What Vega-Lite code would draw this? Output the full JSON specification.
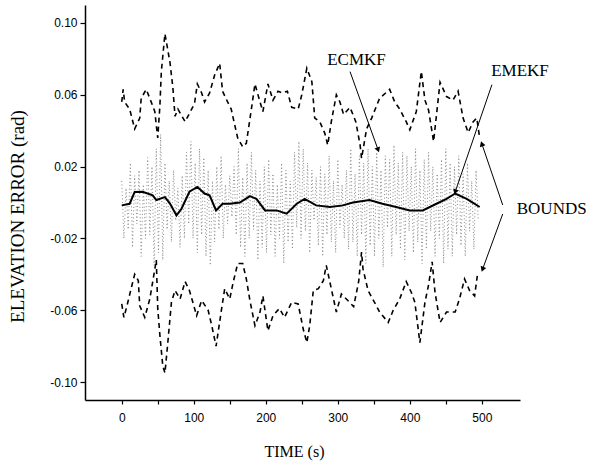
{
  "$schema": "https://vega.github.io/schema/vega-lite/v6.json",
  "width": 435,
  "height": 395,
  "autosize": {"type": "none"},
  "padding": {"left": 85, "top": 5, "right": 74, "bottom": 64},
  "background": "white",
  "config": {
    "view": {"stroke": null},
    "axis": {"grid": false, "domainColor": "black", "domainWidth": 1.5, "tickColor": "black", "tickWidth": 1.2, "labelColor": "black", "titleColor": "black", "labelFont": "Liberation Sans", "labelFontSize": 12, "titleFont": "Liberation Serif", "titleFontWeight": "normal"}
  },
  "datasets": {
    "bounds": [
      {"t": 0, "v": 0.056, "s": "upper"}, {"t": 2, "v": 0.063, "s": "upper"}, {"t": 4, "v": 0.056, "s": "upper"}, {"t": 11, "v": 0.052, "s": "upper"}, {"t": 18, "v": 0.041, "s": "upper"}, {"t": 25, "v": 0.047, "s": "upper"}, {"t": 27, "v": 0.058, "s": "upper"}, {"t": 34, "v": 0.063, "s": "upper"}, {"t": 39, "v": 0.058, "s": "upper"}, {"t": 46, "v": 0.0506, "s": "upper"}, {"t": 48, "v": 0.043, "s": "upper"}, {"t": 50, "v": 0.036, "s": "upper"}, {"t": 53, "v": 0.054, "s": "upper"}, {"t": 55, "v": 0.073, "s": "upper"}, {"t": 60, "v": 0.094, "s": "upper"}, {"t": 67, "v": 0.078, "s": "upper"}, {"t": 71, "v": 0.064, "s": "upper"}, {"t": 74, "v": 0.048, "s": "upper"}, {"t": 78, "v": 0.052, "s": "upper"}, {"t": 88, "v": 0.045, "s": "upper"}, {"t": 94, "v": 0.0496, "s": "upper"}, {"t": 101, "v": 0.055, "s": "upper"}, {"t": 105, "v": 0.066, "s": "upper"}, {"t": 111, "v": 0.061, "s": "upper"}, {"t": 115, "v": 0.056, "s": "upper"}, {"t": 122, "v": 0.061, "s": "upper"}, {"t": 129, "v": 0.071, "s": "upper"}, {"t": 136, "v": 0.0775, "s": "upper"}, {"t": 140, "v": 0.062, "s": "upper"}, {"t": 147, "v": 0.056, "s": "upper"}, {"t": 152, "v": 0.052, "s": "upper"}, {"t": 157, "v": 0.043, "s": "upper"}, {"t": 161, "v": 0.036, "s": "upper"}, {"t": 168, "v": 0.031, "s": "upper"}, {"t": 173, "v": 0.033, "s": "upper"}, {"t": 180, "v": 0.052, "s": "upper"}, {"t": 185, "v": 0.066, "s": "upper"}, {"t": 192, "v": 0.056, "s": "upper"}, {"t": 196, "v": 0.0506, "s": "upper"}, {"t": 203, "v": 0.066, "s": "upper"}, {"t": 210, "v": 0.057, "s": "upper"}, {"t": 217, "v": 0.062, "s": "upper"}, {"t": 223, "v": 0.061, "s": "upper"}, {"t": 230, "v": 0.062, "s": "upper"}, {"t": 236, "v": 0.053, "s": "upper"}, {"t": 245, "v": 0.052, "s": "upper"}, {"t": 250, "v": 0.06, "s": "upper"}, {"t": 257, "v": 0.0748, "s": "upper"}, {"t": 264, "v": 0.0673, "s": "upper"}, {"t": 268, "v": 0.047, "s": "upper"}, {"t": 275, "v": 0.045, "s": "upper"}, {"t": 282, "v": 0.0385, "s": "upper"}, {"t": 286, "v": 0.032, "s": "upper"}, {"t": 291, "v": 0.045, "s": "upper"}, {"t": 298, "v": 0.06, "s": "upper"}, {"t": 303, "v": 0.056, "s": "upper"}, {"t": 308, "v": 0.049, "s": "upper"}, {"t": 317, "v": 0.053, "s": "upper"}, {"t": 325, "v": 0.045, "s": "upper"}, {"t": 331, "v": 0.032, "s": "upper"}, {"t": 333, "v": 0.0245, "s": "upper"}, {"t": 340, "v": 0.041, "s": "upper"}, {"t": 347, "v": 0.047, "s": "upper"}, {"t": 358, "v": 0.058, "s": "upper"}, {"t": 372, "v": 0.063, "s": "upper"}, {"t": 379, "v": 0.056, "s": "upper"}, {"t": 386, "v": 0.052, "s": "upper"}, {"t": 395, "v": 0.045, "s": "upper"}, {"t": 400, "v": 0.0405, "s": "upper"}, {"t": 409, "v": 0.0506, "s": "upper"}, {"t": 416, "v": 0.073, "s": "upper"}, {"t": 421, "v": 0.057, "s": "upper"}, {"t": 426, "v": 0.0515, "s": "upper"}, {"t": 433, "v": 0.034, "s": "upper"}, {"t": 442, "v": 0.067, "s": "upper"}, {"t": 451, "v": 0.059, "s": "upper"}, {"t": 460, "v": 0.057, "s": "upper"}, {"t": 467, "v": 0.062, "s": "upper"}, {"t": 474, "v": 0.047, "s": "upper"}, {"t": 481, "v": 0.039, "s": "upper"}, {"t": 488, "v": 0.045, "s": "upper"}, {"t": 493, "v": 0.047, "s": "upper"}, {"t": 497, "v": 0.036, "s": "upper"},
      {"t": 0, "v": -0.0565, "s": "lower"}, {"t": 3, "v": -0.064, "s": "lower"}, {"t": 7, "v": -0.058, "s": "lower"}, {"t": 13, "v": -0.048, "s": "lower"}, {"t": 18, "v": -0.04, "s": "lower"}, {"t": 23, "v": -0.0435, "s": "lower"}, {"t": 25, "v": -0.0575, "s": "lower"}, {"t": 32, "v": -0.064, "s": "lower"}, {"t": 39, "v": -0.0537, "s": "lower"}, {"t": 46, "v": -0.037, "s": "lower"}, {"t": 48, "v": -0.032, "s": "lower"}, {"t": 50, "v": -0.059, "s": "lower"}, {"t": 53, "v": -0.074, "s": "lower"}, {"t": 57, "v": -0.091, "s": "lower"}, {"t": 60, "v": -0.095, "s": "lower"}, {"t": 64, "v": -0.078, "s": "lower"}, {"t": 69, "v": -0.0556, "s": "lower"}, {"t": 74, "v": -0.049, "s": "lower"}, {"t": 81, "v": -0.0537, "s": "lower"}, {"t": 88, "v": -0.044, "s": "lower"}, {"t": 94, "v": -0.049, "s": "lower"}, {"t": 104, "v": -0.063, "s": "lower"}, {"t": 111, "v": -0.0546, "s": "lower"}, {"t": 120, "v": -0.06, "s": "lower"}, {"t": 125, "v": -0.0686, "s": "lower"}, {"t": 131, "v": -0.08, "s": "lower"}, {"t": 138, "v": -0.061, "s": "lower"}, {"t": 143, "v": -0.048, "s": "lower"}, {"t": 150, "v": -0.0537, "s": "lower"}, {"t": 155, "v": -0.044, "s": "lower"}, {"t": 161, "v": -0.034, "s": "lower"}, {"t": 168, "v": -0.034, "s": "lower"}, {"t": 173, "v": -0.0426, "s": "lower"}, {"t": 178, "v": -0.0546, "s": "lower"}, {"t": 185, "v": -0.0686, "s": "lower"}, {"t": 192, "v": -0.061, "s": "lower"}, {"t": 196, "v": -0.052, "s": "lower"}, {"t": 203, "v": -0.0714, "s": "lower"}, {"t": 210, "v": -0.063, "s": "lower"}, {"t": 219, "v": -0.059, "s": "lower"}, {"t": 226, "v": -0.064, "s": "lower"}, {"t": 236, "v": -0.0556, "s": "lower"}, {"t": 245, "v": -0.0565, "s": "lower"}, {"t": 252, "v": -0.0705, "s": "lower"}, {"t": 257, "v": -0.078, "s": "lower"}, {"t": 261, "v": -0.0686, "s": "lower"}, {"t": 266, "v": -0.049, "s": "lower"}, {"t": 273, "v": -0.048, "s": "lower"}, {"t": 280, "v": -0.0435, "s": "lower"}, {"t": 284, "v": -0.035, "s": "lower"}, {"t": 291, "v": -0.048, "s": "lower"}, {"t": 298, "v": -0.061, "s": "lower"}, {"t": 305, "v": -0.051, "s": "lower"}, {"t": 314, "v": -0.0546, "s": "lower"}, {"t": 322, "v": -0.058, "s": "lower"}, {"t": 329, "v": -0.044, "s": "lower"}, {"t": 333, "v": -0.0276, "s": "lower"}, {"t": 335, "v": -0.037, "s": "lower"}, {"t": 342, "v": -0.049, "s": "lower"}, {"t": 351, "v": -0.0556, "s": "lower"}, {"t": 358, "v": -0.061, "s": "lower"}, {"t": 370, "v": -0.0668, "s": "lower"}, {"t": 377, "v": -0.06, "s": "lower"}, {"t": 386, "v": -0.0537, "s": "lower"}, {"t": 395, "v": -0.044, "s": "lower"}, {"t": 402, "v": -0.05, "s": "lower"}, {"t": 407, "v": -0.0556, "s": "lower"}, {"t": 414, "v": -0.078, "s": "lower"}, {"t": 421, "v": -0.0556, "s": "lower"}, {"t": 426, "v": -0.046, "s": "lower"}, {"t": 431, "v": -0.033, "s": "lower"}, {"t": 435, "v": -0.05, "s": "lower"}, {"t": 442, "v": -0.0668, "s": "lower"}, {"t": 451, "v": -0.061, "s": "lower"}, {"t": 463, "v": -0.061, "s": "lower"}, {"t": 469, "v": -0.0537, "s": "lower"}, {"t": 476, "v": -0.0426, "s": "lower"}, {"t": 483, "v": -0.049, "s": "lower"}, {"t": 490, "v": -0.052, "s": "lower"}, {"t": 494, "v": -0.04, "s": "lower"}
    ],
    "emekf": [
      {"t": 0, "v": -0.0016}, {"t": 11, "v": -0.0007}, {"t": 18, "v": 0.0059}, {"t": 29, "v": 0.006}, {"t": 43, "v": 0.004}, {"t": 48, "v": 0.0014}, {"t": 60, "v": 0.003}, {"t": 67, "v": -0.0006}, {"t": 76, "v": -0.0072}, {"t": 83, "v": -0.0035}, {"t": 94, "v": 0.006}, {"t": 105, "v": 0.0087}, {"t": 115, "v": 0.005}, {"t": 122, "v": 0.004}, {"t": 131, "v": -0.0044}, {"t": 140, "v": -0.0007}, {"t": 150, "v": -0.0007}, {"t": 164, "v": 0.0}, {"t": 178, "v": 0.0036}, {"t": 187, "v": 0.002}, {"t": 199, "v": -0.0044}, {"t": 215, "v": -0.0044}, {"t": 229, "v": -0.0062}, {"t": 243, "v": -0.0007}, {"t": 254, "v": 0.002}, {"t": 270, "v": -0.0016}, {"t": 289, "v": -0.0025}, {"t": 307, "v": -0.0016}, {"t": 321, "v": 0.0}, {"t": 344, "v": 0.0014}, {"t": 362, "v": -0.0007}, {"t": 381, "v": -0.0025}, {"t": 400, "v": -0.0044}, {"t": 418, "v": -0.0044}, {"t": 437, "v": -0.0007}, {"t": 451, "v": 0.002}, {"t": 463, "v": 0.005}, {"t": 479, "v": 0.002}, {"t": 497, "v": -0.0025}
    ],
    "ecmkf": [
      {"t": 0, "v": 0.012}, {"t": 3, "v": -0.02}, {"t": 6, "v": 0.008}, {"t": 9, "v": -0.015}, {"t": 12, "v": 0.022}, {"t": 15, "v": -0.025}, {"t": 18, "v": 0.015}, {"t": 21, "v": -0.012}, {"t": 24, "v": 0.018}, {"t": 27, "v": -0.03}, {"t": 30, "v": 0.01}, {"t": 33, "v": -0.02}, {"t": 36, "v": 0.025}, {"t": 39, "v": -0.018}, {"t": 42, "v": 0.02}, {"t": 45, "v": -0.035}, {"t": 48, "v": 0.03}, {"t": 51, "v": -0.028}, {"t": 54, "v": 0.038}, {"t": 57, "v": -0.032}, {"t": 60, "v": 0.022}, {"t": 63, "v": -0.015}, {"t": 66, "v": 0.012}, {"t": 69, "v": -0.022}, {"t": 72, "v": 0.018}, {"t": 75, "v": -0.01}, {"t": 78, "v": 0.008}, {"t": 81, "v": -0.025}, {"t": 84, "v": 0.015}, {"t": 87, "v": -0.02}, {"t": 90, "v": 0.028}, {"t": 93, "v": -0.012}, {"t": 96, "v": 0.034}, {"t": 99, "v": -0.02}, {"t": 102, "v": 0.022}, {"t": 105, "v": -0.028}, {"t": 108, "v": 0.03}, {"t": 111, "v": -0.018}, {"t": 114, "v": 0.025}, {"t": 117, "v": -0.03}, {"t": 120, "v": 0.018}, {"t": 123, "v": -0.035}, {"t": 126, "v": 0.012}, {"t": 129, "v": -0.022}, {"t": 132, "v": 0.02}, {"t": 135, "v": -0.015}, {"t": 138, "v": 0.026}, {"t": 141, "v": -0.02}, {"t": 144, "v": 0.01}, {"t": 147, "v": -0.012}, {"t": 150, "v": 0.015}, {"t": 153, "v": -0.008}, {"t": 156, "v": 0.02}, {"t": 159, "v": -0.018}, {"t": 162, "v": 0.03}, {"t": 165, "v": -0.025}, {"t": 168, "v": 0.014}, {"t": 171, "v": -0.03}, {"t": 174, "v": 0.022}, {"t": 177, "v": -0.02}, {"t": 180, "v": 0.028}, {"t": 183, "v": -0.015}, {"t": 186, "v": 0.018}, {"t": 189, "v": -0.032}, {"t": 192, "v": 0.012}, {"t": 195, "v": -0.025}, {"t": 198, "v": 0.02}, {"t": 201, "v": -0.028}, {"t": 204, "v": 0.024}, {"t": 207, "v": -0.018}, {"t": 210, "v": 0.016}, {"t": 213, "v": -0.03}, {"t": 216, "v": 0.01}, {"t": 219, "v": -0.02}, {"t": 222, "v": 0.022}, {"t": 225, "v": -0.034}, {"t": 228, "v": 0.018}, {"t": 231, "v": -0.022}, {"t": 234, "v": 0.012}, {"t": 237, "v": -0.026}, {"t": 240, "v": 0.028}, {"t": 243, "v": -0.014}, {"t": 246, "v": 0.034}, {"t": 249, "v": -0.02}, {"t": 252, "v": 0.03}, {"t": 255, "v": -0.016}, {"t": 258, "v": 0.022}, {"t": 261, "v": -0.028}, {"t": 264, "v": 0.018}, {"t": 267, "v": -0.01}, {"t": 270, "v": 0.014}, {"t": 273, "v": -0.024}, {"t": 276, "v": 0.02}, {"t": 279, "v": -0.03}, {"t": 282, "v": 0.016}, {"t": 285, "v": -0.018}, {"t": 288, "v": 0.026}, {"t": 291, "v": -0.022}, {"t": 294, "v": 0.012}, {"t": 297, "v": -0.028}, {"t": 300, "v": 0.024}, {"t": 303, "v": -0.014}, {"t": 306, "v": 0.01}, {"t": 309, "v": -0.02}, {"t": 312, "v": 0.018}, {"t": 315, "v": -0.026}, {"t": 318, "v": 0.03}, {"t": 321, "v": -0.022}, {"t": 324, "v": 0.016}, {"t": 327, "v": -0.03}, {"t": 330, "v": 0.026}, {"t": 333, "v": -0.018}, {"t": 336, "v": 0.022}, {"t": 339, "v": -0.034}, {"t": 342, "v": 0.03}, {"t": 345, "v": -0.024}, {"t": 348, "v": 0.02}, {"t": 351, "v": -0.03}, {"t": 354, "v": 0.028}, {"t": 357, "v": -0.02}, {"t": 360, "v": 0.018}, {"t": 363, "v": -0.036}, {"t": 366, "v": 0.026}, {"t": 369, "v": -0.014}, {"t": 372, "v": 0.024}, {"t": 375, "v": -0.03}, {"t": 378, "v": 0.032}, {"t": 381, "v": -0.018}, {"t": 384, "v": 0.022}, {"t": 387, "v": -0.026}, {"t": 390, "v": 0.028}, {"t": 393, "v": -0.032}, {"t": 396, "v": 0.026}, {"t": 399, "v": -0.016}, {"t": 402, "v": 0.02}, {"t": 405, "v": -0.028}, {"t": 408, "v": 0.03}, {"t": 411, "v": -0.022}, {"t": 414, "v": 0.018}, {"t": 417, "v": -0.034}, {"t": 420, "v": 0.024}, {"t": 423, "v": -0.026}, {"t": 426, "v": 0.028}, {"t": 429, "v": -0.016}, {"t": 432, "v": 0.02}, {"t": 435, "v": -0.03}, {"t": 438, "v": 0.016}, {"t": 441, "v": -0.02}, {"t": 444, "v": 0.024}, {"t": 447, "v": -0.034}, {"t": 450, "v": 0.03}, {"t": 453, "v": -0.026}, {"t": 456, "v": 0.022}, {"t": 459, "v": -0.03}, {"t": 462, "v": 0.02}, {"t": 465, "v": -0.018}, {"t": 468, "v": 0.026}, {"t": 471, "v": -0.024}, {"t": 474, "v": 0.016}, {"t": 477, "v": -0.03}, {"t": 480, "v": 0.022}, {"t": 483, "v": -0.016}, {"t": 486, "v": 0.012}, {"t": 489, "v": -0.026}, {"t": 492, "v": 0.018}, {"t": 495, "v": -0.01}
    ],
    "notes": [
      {"t": 326, "v": 0.0796, "label": "ECMKF"},
      {"t": 553, "v": 0.0735, "label": "EMEKF"},
      {"t": 597, "v": -0.0036, "label": "BOUNDS"}
    ],
    "arrows": [
      {"id": "ecmkf", "t": 317, "v": 0.0729, "t2": 356, "v2": 0.0293},
      {"id": "emekf", "t": 514, "v": 0.0656, "t2": 463, "v2": 0.0059},
      {"id": "bup", "t": 529, "v": -0.0014, "t2": 500, "v2": 0.0327},
      {"id": "blo", "t": 529, "v": -0.0064, "t2": 501, "v2": -0.0372}
    ]
  },
  "layer": [
    {
      "data": {"name": "ecmkf"},
      "mark": {"type": "line", "color": "#8a8a8a", "strokeWidth": 1, "strokeDash": [1, 2.5], "clip": false},
      "encoding": {
        "x": {"field": "t", "type": "quantitative", "scale": {"domain": [-51, 553], "nice": false, "zero": false},
          "axis": {"values": [0, 50, 100, 150, 200, 250, 300, 350, 400, 450, 500], "labelExpr": "datum.value % 100 == 0 ? datum.label : ''", "tickSize": 4, "labelPadding": 8, "title": "TIME (s)", "titleFontSize": 16, "titleX": 209, "titleY": 51, "titleBaseline": "middle", "titleAnchor": "start", "titleAlign": "center"}},
        "y": {"field": "v", "type": "quantitative", "scale": {"domain": [-0.11, 0.11], "nice": false, "zero": false},
          "axis": {"values": [-0.1, -0.08, -0.06, -0.04, -0.02, 0, 0.02, 0.04, 0.06, 0.08, 0.1], "labelExpr": "abs(round(datum.value*100)) % 4 == 2 ? replace(format(datum.value, '.2f'), '−', '-') : ''", "tickSize": 5, "labelPadding": 3, "title": "ELEVATION ERROR (rad)", "titleFontSize": 19, "titleX": -68, "titleY": 211, "titleAngle": -90, "titleBaseline": "middle", "titleAlign": "center"}}
      }
    },
    {
      "data": {"name": "bounds"},
      "mark": {"type": "line", "color": "black", "strokeWidth": 1.6, "strokeDash": [5, 4]},
      "encoding": {
        "x": {"field": "t", "type": "quantitative"},
        "y": {"field": "v", "type": "quantitative"},
        "detail": {"field": "s"}
      }
    },
    {
      "data": {"name": "emekf"},
      "mark": {"type": "line", "color": "black", "strokeWidth": 2},
      "encoding": {
        "x": {"field": "t", "type": "quantitative"},
        "y": {"field": "v", "type": "quantitative"}
      }
    },
    {
      "data": {"name": "arrows"},
      "mark": {"type": "rule", "color": "black", "strokeWidth": 1},
      "encoding": {
        "x": {"field": "t", "type": "quantitative"},
        "y": {"field": "v", "type": "quantitative"},
        "x2": {"field": "t2"},
        "y2": {"field": "v2"}
      }
    },
    {
      "data": {"name": "arrows"},
      "transform": [{"filter": "datum.id == 'ecmkf'"}],
      "mark": {"type": "point", "shape": "triangle-up", "filled": true, "color": "black", "size": 35, "angle": 160, "opacity": 1},
      "encoding": {"x": {"field": "t2", "type": "quantitative"}, "y": {"field": "v2", "type": "quantitative"}}
    },
    {
      "data": {"name": "arrows"},
      "transform": [{"filter": "datum.id == 'emekf'"}],
      "mark": {"type": "point", "shape": "triangle-up", "filled": true, "color": "black", "size": 35, "angle": 199, "opacity": 1},
      "encoding": {"x": {"field": "t2", "type": "quantitative"}, "y": {"field": "v2", "type": "quantitative"}}
    },
    {
      "data": {"name": "arrows"},
      "transform": [{"filter": "datum.id == 'bup'"}],
      "mark": {"type": "point", "shape": "triangle-up", "filled": true, "color": "black", "size": 35, "angle": 341, "opacity": 1},
      "encoding": {"x": {"field": "t2", "type": "quantitative"}, "y": {"field": "v2", "type": "quantitative"}}
    },
    {
      "data": {"name": "arrows"},
      "transform": [{"filter": "datum.id == 'blo'"}],
      "mark": {"type": "point", "shape": "triangle-up", "filled": true, "color": "black", "size": 35, "angle": 200, "opacity": 1},
      "encoding": {"x": {"field": "t2", "type": "quantitative"}, "y": {"field": "v2", "type": "quantitative"}}
    },
    {
      "data": {"name": "notes"},
      "mark": {"type": "text", "font": "Liberation Serif", "fontSize": 17, "color": "black", "align": "center", "baseline": "middle"},
      "encoding": {
        "x": {"field": "t", "type": "quantitative"},
        "y": {"field": "v", "type": "quantitative"},
        "text": {"field": "label"}
      }
    }
  ]
}
